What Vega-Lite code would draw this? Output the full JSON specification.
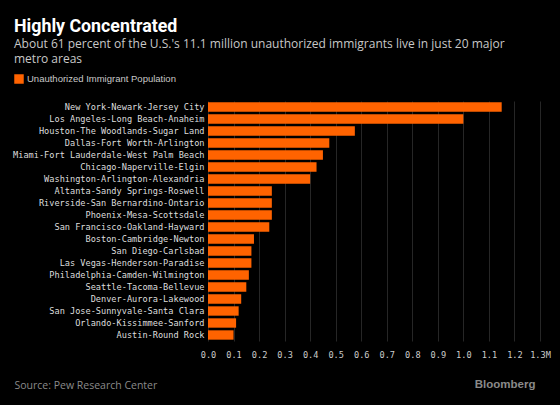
{
  "$schema": "https://vega.github.io/schema/vega-lite/v6.json",
  "autosize": {"type": "none"},
  "width": 332,
  "height": 240,
  "padding": {"left": 208, "top": 101, "right": 20, "bottom": 64},
  "background": "#000000",
  "data": {
    "values": [
      {"metro": "New York-Newark-Jersey City", "value": 1.15, "series": "Unauthorized Immigrant Population"},
      {"metro": "Los Angeles-Long Beach-Anaheim", "value": 1.0, "series": "Unauthorized Immigrant Population"},
      {"metro": "Houston-The Woodlands-Sugar Land", "value": 0.575, "series": "Unauthorized Immigrant Population"},
      {"metro": "Dallas-Fort Worth-Arlington", "value": 0.475, "series": "Unauthorized Immigrant Population"},
      {"metro": "Miami-Fort Lauderdale-West Palm Beach", "value": 0.45, "series": "Unauthorized Immigrant Population"},
      {"metro": "Chicago-Naperville-Elgin", "value": 0.425, "series": "Unauthorized Immigrant Population"},
      {"metro": "Washington-Arlington-Alexandria", "value": 0.4, "series": "Unauthorized Immigrant Population"},
      {"metro": "Altanta-Sandy Springs-Roswell", "value": 0.25, "series": "Unauthorized Immigrant Population"},
      {"metro": "Riverside-San Bernardino-Ontario", "value": 0.25, "series": "Unauthorized Immigrant Population"},
      {"metro": "Phoenix-Mesa-Scottsdale", "value": 0.25, "series": "Unauthorized Immigrant Population"},
      {"metro": "San Francisco-Oakland-Hayward", "value": 0.24, "series": "Unauthorized Immigrant Population"},
      {"metro": "Boston-Cambridge-Newton", "value": 0.18, "series": "Unauthorized Immigrant Population"},
      {"metro": "San Diego-Carlsbad", "value": 0.17, "series": "Unauthorized Immigrant Population"},
      {"metro": "Las Vegas-Henderson-Paradise", "value": 0.17, "series": "Unauthorized Immigrant Population"},
      {"metro": "Philadelphia-Camden-Wilmington", "value": 0.16, "series": "Unauthorized Immigrant Population"},
      {"metro": "Seattle-Tacoma-Bellevue", "value": 0.15, "series": "Unauthorized Immigrant Population"},
      {"metro": "Denver-Aurora-Lakewood", "value": 0.13, "series": "Unauthorized Immigrant Population"},
      {"metro": "San Jose-Sunnyvale-Santa Clara", "value": 0.12, "series": "Unauthorized Immigrant Population"},
      {"metro": "Orlando-Kissimmee-Sanford", "value": 0.11, "series": "Unauthorized Immigrant Population"},
      {"metro": "Austin-Round Rock", "value": 0.1, "series": "Unauthorized Immigrant Population"}
    ]
  },
  "title": {
    "text": "Highly Concentrated",
    "subtitle": ["About 61 percent of the U.S.'s 11.1 million unauthorized immigrants live in just 20 major", "metro areas"],
    "anchor": "start",
    "frame": "group",
    "dx": -194,
    "offset": 9,
    "font": "Roboto",
    "fontSize": 17.8,
    "fontWeight": "bold",
    "color": "#ffffff",
    "subtitleFont": "Open Sans",
    "subtitleFontSize": 12,
    "subtitleColor": "#c8c8c8",
    "subtitleLineHeight": 15,
    "subtitlePadding": 3
  },
  "mark": {"type": "bar", "color": "#ff6300"},
  "encoding": {
    "y": {
      "field": "metro",
      "type": "nominal",
      "sort": null,
      "scale": {"paddingInner": 0.22, "paddingOuter": 0.11},
      "axis": {
        "title": "Bloomberg",
        "titleAngle": 0,
        "titleX": 327,
        "titleY": 286,
        "titleAlign": "right",
        "titleBaseline": "alphabetic",
        "titleFont": "Liberation Sans",
        "titleFontSize": 11.5,
        "titleFontWeight": "bold",
        "titleColor": "#8a8a8a",
        "labelFont": "DejaVu Sans Mono",
        "labelFontSize": 8.6,
        "labelColor": "#dddddd",
        "labelPadding": 4,
        "labelLimit": 260,
        "ticks": false,
        "domain": false,
        "grid": false
      }
    },
    "x": {
      "field": "value",
      "type": "quantitative",
      "scale": {"domain": [0, 1.3], "nice": false},
      "axis": {
        "title": "Source: Pew Research Center",
        "titleX": -194,
        "titleY": 47,
        "titleAlign": "left",
        "titleAnchor": "start",
        "titleBaseline": "alphabetic",
        "titleFont": "Open Sans",
        "titleFontSize": 10.5,
        "titleFontWeight": "normal",
        "titleColor": "#8a8a8a",
        "values": [0, 0.1, 0.2, 0.3, 0.4, 0.5, 0.6, 0.7, 0.8, 0.9, 1.0, 1.1, 1.2, 1.3],
        "labelExpr": "datum.value >= 1.29 ? '1.3M' : format(datum.value, '.1f')",
        "labelFont": "DejaVu Sans Mono",
        "labelFontSize": 8.6,
        "labelColor": "#cccccc",
        "labelPadding": 9,
        "labelFlush": false,
        "ticks": false,
        "domain": false,
        "grid": true,
        "gridColor": "#262626",
        "gridWidth": 1
      }
    },
    "color": {
      "field": "series",
      "type": "nominal",
      "scale": {"range": ["#ff6300"]},
      "legend": {
        "title": null,
        "orient": "none",
        "legendX": -194,
        "legendY": -27,
        "symbolType": "square",
        "symbolSize": 90,
        "symbolStrokeWidth": 0,
        "labelFont": "Liberation Sans",
        "labelFontSize": 9.5,
        "labelColor": "#c8c8c8",
        "labelOffset": 3
      }
    }
  },
  "config": {
    "view": {"stroke": null}
  }
}
